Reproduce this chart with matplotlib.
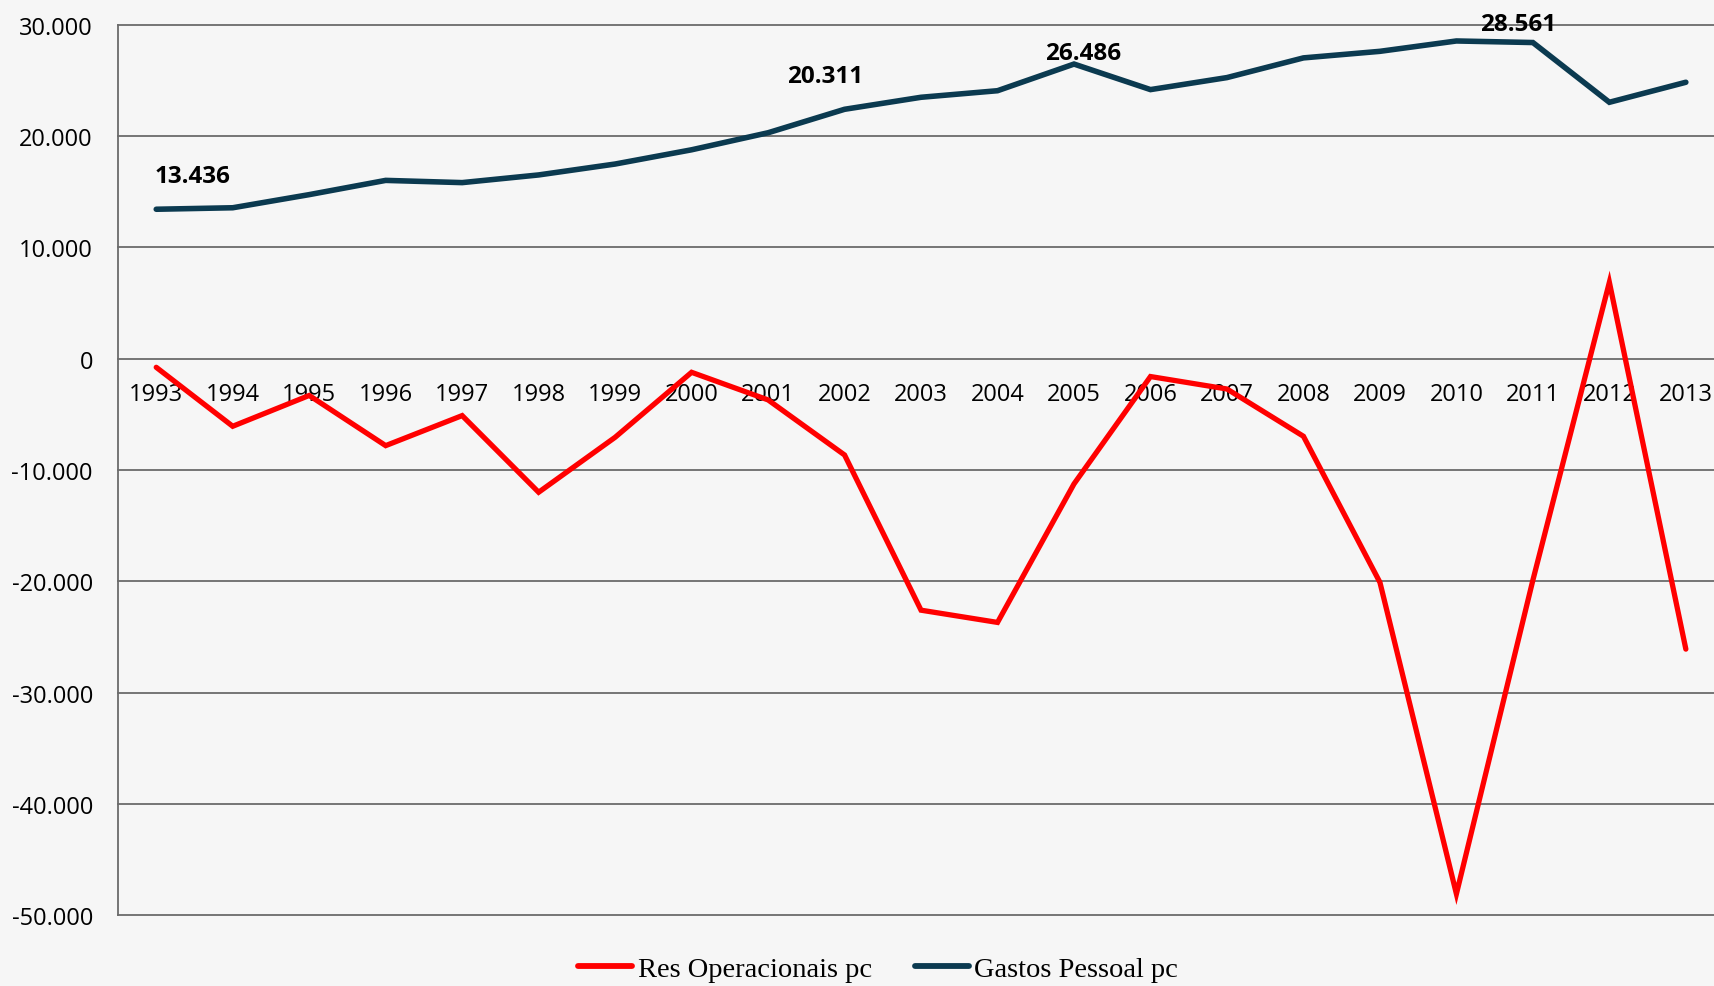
import matplotlib
matplotlib.use('Agg')
import matplotlib.pyplot as plt
import matplotlib.ticker as mticker

# dados
anos = [str(a) for a in range(1993, 2014)]
res_operacionais = [-770, -6070, -3300, -7810, -5110, -12000, -7060, -1220, -3700, -8650,
                    -22600, -23700, -11250, -1600, -2720, -6970, -20100, -48100, -19900, 6870, -26100]
gastos_pessoal = [13436, 13570, 14750, 16030, 15830, 16520, 17500, 18780, 20311, 22420,
                  23500, 24090, 26486, 24190, 25270, 27040, 27630, 28561, 28420, 23050, 24850]

# rótulos de dados: índice do ano e deslocamento (pixels)
rotulos_idx = [0, 8, 12, 17]
rotulos_off = [(36, 33), (57, 57), (9, 11), (62, 17)]

fundo = '#f6f6f6'
cor_red = '#ff0000'
cor_dark = '#0b3a50'

fig = plt.figure(figsize=(17.15, 9.87), dpi=100, facecolor=fundo)
ax = fig.add_axes([0.0688, 0.0719, 0.9365, 0.9018])
ax.set_facecolor(fundo)

x = list(range(len(anos)))
ax.plot(x, res_operacionais, color=cor_red, linewidth=3.8, label='Res Operacionais pc',
        zorder=4, solid_joinstyle='miter', solid_capstyle='round')
ax.plot(x, gastos_pessoal, color=cor_dark, linewidth=4.0, label='Gastos Pessoal pc',
        zorder=4, solid_joinstyle='miter', solid_capstyle='round')

# rótulos
for i, (dx, dy) in zip(rotulos_idx, rotulos_off):
    txt = f'{gastos_pessoal[i]:,}'.replace(',', '.')
    ax.annotate(txt, (x[i], gastos_pessoal[i]), xytext=(dx, dy), textcoords='offset pixels',
                ha='center', va='center', fontsize=17.5, fontweight='bold',
                family='Open Sans', color='black', zorder=5, annotation_clip=False)

# eixos
ax.set_xlim(-0.5, 20.5)
ax.set_ylim(-50000, 30000)
ax.set_yticks(range(-50000, 30001, 10000))
ax.yaxis.set_major_formatter(mticker.FuncFormatter(lambda v, p: f'{int(v):,}'.replace(',', '.')))
ax.set_xticks(x)
ax.set_xticklabels(anos)

ax.spines['bottom'].set_position(('data', 0))
ax.spines['bottom'].set_visible(False)
ax.spines['top'].set_visible(False)
ax.spines['right'].set_visible(False)
ax.spines['left'].set_color('#6b6b6b')
ax.spines['left'].set_linewidth(1.3)

ax.tick_params(axis='y', length=0, pad=18, labelsize=17)
ax.tick_params(axis='x', length=0, pad=17, labelsize=17)
for lbl in ax.get_xticklabels() + ax.get_yticklabels():
    lbl.set_family('Open Sans')

ax.yaxis.grid(True, color='#6b6b6b', linewidth=1.3)
ax.set_axisbelow(True)
for gl in ax.get_ygridlines():
    gl.set_clip_on(False)

# legenda
leg = fig.legend(loc='center', bbox_to_anchor=(0.512, 0.017), ncol=2, frameon=False,
                 prop={'family': 'Liberation Serif', 'size': 20.5},
                 handlelength=1.9, handletextpad=0.2, columnspacing=1.5)
for h in leg.legend_handles:
    h.set_linewidth(4.2)

plt.savefig('out.png', dpi=100, facecolor=fundo)
